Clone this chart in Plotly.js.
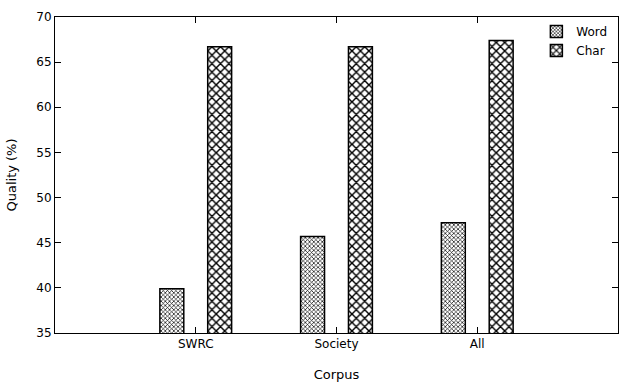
<!DOCTYPE html>
<html>
<head>
<meta charset="utf-8">
<script src="https://cdn.plot.ly/plotly-3.0.1.min.js"></script>
<style>
  html, body { margin: 0; padding: 0; background: #fff; }
  #chart { width: 640px; height: 384px; }
</style>
</head>
<body>
<div id="chart"></div>
<script>
// corpora on the x axis
const corpora = ['SWRC', 'Society', 'All'];

// quality (%) per corpus
const wordQuality = [39.9, 45.7, 47.2];
const charQuality = [66.7, 66.7, 67.4];

const font = { family: 'DejaVu Sans, Verdana, sans-serif', size: 12, color: '#000' };
const titleFont = { family: 'DejaVu Sans, Verdana, sans-serif', size: 13, color: '#000' };

const traceWord = {
    type: 'bar',
    x: corpora,
    y: wordQuality,
    name: 'Word',
    width: 0.17,
    offset: -0.255,
    marker: {
        color: '#fff',
        line: { color: '#000', width: 1.5 },
        pattern: { shape: 'x', size: 3, solidity: 0.4, fgcolor: '#000', bgcolor: '#fff' }
    }
};

const traceChar = {
    type: 'bar',
    x: corpora,
    y: charQuality,
    name: 'Char',
    width: 0.17,
    offset: 0.085,
    marker: {
        color: '#fff',
        line: { color: '#000', width: 1.5 },
        pattern: { shape: 'x', size: 6, solidity: 0.42, fgcolor: '#000', bgcolor: '#fff' }
    }
};

const layout = {
    width: 640,
    height: 384,
    margin: { l: 55, r: 22, t: 17, b: 51 },
    paper_bgcolor: '#fff',
    plot_bgcolor: '#fff',
    font: font,
    barmode: 'overlay',
    showlegend: true,
    legend: {
        x: 0.99, y: 1.0, xanchor: 'right', yanchor: 'top',
        bgcolor: 'rgba(0,0,0,0)',
        font: font,
        itemwidth: 30,
        tracegroupgap: 0
    },
    xaxis: {
        type: 'category',
        range: [-1, 3],
        showline: true, linecolor: '#000', linewidth: 1,
        mirror: 'ticks',
        ticks: 'inside', ticklen: 6, tickcolor: '#000',
        showgrid: false, zeroline: false,
        title: { text: 'Corpus', font: titleFont, standoff: 19 },
        tickfont: font
    },
    yaxis: {
        range: [35, 70],
        dtick: 5,
        showline: true, linecolor: '#000', linewidth: 1,
        mirror: 'ticks',
        ticks: 'inside', ticklen: 6, tickcolor: '#000',
        showgrid: false, zeroline: false,
        title: { text: 'Quality (%)', font: titleFont, standoff: 16 },
        tickfont: font
    }
};

Plotly.newPlot('chart', [traceWord, traceChar], layout, { staticPlot: true, displayModeBar: false });
</script>
</body>
</html>
